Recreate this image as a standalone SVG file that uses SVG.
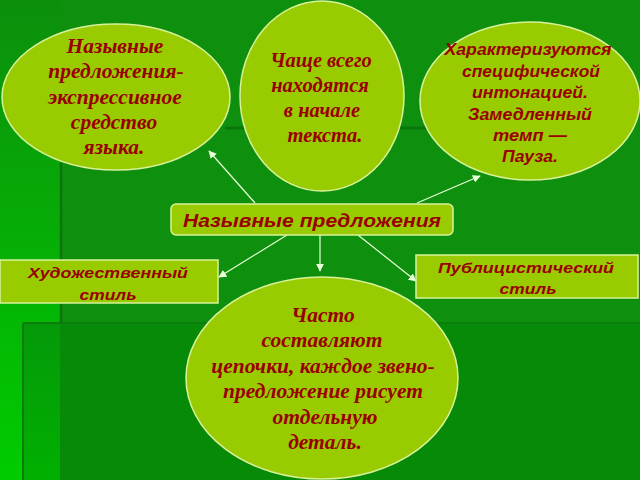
<svg xmlns="http://www.w3.org/2000/svg" width="640" height="480" viewBox="0 0 640 480">
<defs>
<linearGradient id="band" x1="0" y1="0" x2="0" y2="1">
<stop offset="0" stop-color="#0c8f0c"/>
<stop offset="1" stop-color="#00cc00"/>
</linearGradient>
<linearGradient id="band2" x1="0" y1="0" x2="0" y2="1">
<stop offset="0" stop-color="#05990a"/>
<stop offset="1" stop-color="#00b000"/>
</linearGradient>
<marker id="ah" viewBox="0 0 10 10" refX="9" refY="5" markerWidth="8" markerHeight="8" markerUnits="userSpaceOnUse" orient="auto">
<path d="M0,0 L10,5 L0,10 z" fill="#e8ffd8"/>
</marker>
<style>
.shape{fill:#99cc00;stroke:#d8f29a;stroke-width:1.5}
.serif{font-family:"Liberation Serif","Times New Roman",serif;font-weight:bold;font-style:italic;fill:#990000;text-anchor:middle}
.sans{font-family:"Liberation Sans",Arial,sans-serif;font-weight:bold;font-style:italic;fill:#990000;text-anchor:middle}
.conn{stroke:#e8ffd8;stroke-width:1.2;fill:none;marker-end:url(#ah)}
</style>
</defs>
<g id="background">
<rect x="0" y="0" width="640" height="480" fill="#0e900e"/>
<rect x="0" y="0" width="60" height="480" fill="url(#band)"/>
<rect x="23" y="323" width="617" height="157" fill="#078a07"/>
<rect x="23" y="323" width="37" height="157" fill="url(#band2)"/>
<line x1="23" y1="323" x2="640" y2="323" stroke="#0a7d0a" stroke-width="2"/>
<line x1="23" y1="323" x2="23" y2="480" stroke="#0a7d0a" stroke-width="2"/>
<line x1="61" y1="160" x2="61" y2="323" stroke="#0a760a" stroke-width="2.5"/>
<line x1="225" y1="128" x2="430" y2="128" stroke="#0a760a" stroke-width="3"/>
</g>
<g id="connectors">
<line class="conn" x1="255" y1="203" x2="209" y2="151"/>
<line class="conn" x1="417" y1="203" x2="480" y2="176"/>
<line class="conn" x1="287" y1="235" x2="219" y2="277"/>
<line class="conn" x1="320" y1="235" x2="320" y2="271"/>
<line class="conn" x1="358" y1="235" x2="416" y2="281"/>
</g>
<g id="node-left">
<ellipse class="shape" cx="116" cy="97" rx="114" ry="73"/>
<text class="serif" font-size="21.5" x="115" y="53">Назывные</text>
<text class="serif" font-size="21.5" x="116" y="78">предложения-</text>
<text class="serif" font-size="21.5" x="115" y="104">экспрессивное</text>
<text class="serif" font-size="21.5" x="114" y="129">средство</text>
<text class="serif" font-size="21.5" x="114" y="154">языка.</text>
</g>
<g id="node-top">
<ellipse class="shape" cx="322" cy="96" rx="82" ry="95"/>
<text class="serif" font-size="20.5" x="321" y="67">Чаще всего</text>
<text class="serif" font-size="20.5" x="320" y="92">находятся</text>
<text class="serif" font-size="20.5" x="322" y="117">в начале</text>
<text class="serif" font-size="20.5" x="325" y="142">текста.</text>
</g>
<g id="node-right">
<ellipse class="shape" cx="530" cy="101" rx="110" ry="79"/>
<text class="sans" font-size="16.5" x="528" y="55" textLength="167" lengthAdjust="spacingAndGlyphs">Характеризуются</text>
<text class="sans" font-size="16.5" x="531" y="77" textLength="138" lengthAdjust="spacingAndGlyphs">специфической</text>
<text class="sans" font-size="16.5" x="530" y="98" textLength="116" lengthAdjust="spacingAndGlyphs">интонацией.</text>
<text class="sans" font-size="16.5" x="530" y="120" textLength="124" lengthAdjust="spacingAndGlyphs">Замедленный</text>
<text class="sans" font-size="16.5" x="530" y="141" textLength="74" lengthAdjust="spacingAndGlyphs">темп —</text>
<text class="sans" font-size="16.5" x="530" y="162" textLength="56" lengthAdjust="spacingAndGlyphs">Пауза.</text>
</g>
<g id="node-center">
<rect class="shape" x="171" y="204" width="282" height="31" rx="5"/>
<text class="sans" font-size="18.5" x="312" y="227" textLength="258" lengthAdjust="spacingAndGlyphs">Назывные предложения</text>
</g>
<g id="node-art">
<rect class="shape" x="0" y="260" width="218" height="43"/>
<text class="sans" font-size="14.5" x="108" y="278" textLength="160" lengthAdjust="spacingAndGlyphs">Художественный</text>
<text class="sans" font-size="14.5" x="108" y="300" textLength="57" lengthAdjust="spacingAndGlyphs">стиль</text>
</g>
<g id="node-pub">
<rect class="shape" x="416" y="255" width="222" height="43"/>
<text class="sans" font-size="15" x="526" y="273" textLength="176" lengthAdjust="spacingAndGlyphs">Публицистический</text>
<text class="sans" font-size="15" x="528" y="294" textLength="57" lengthAdjust="spacingAndGlyphs">стиль</text>
</g>
<g id="node-bottom">
<ellipse class="shape" cx="322" cy="378" rx="136" ry="101"/>
<text class="serif" font-size="21.5" x="323" y="322">Часто</text>
<text class="serif" font-size="21.5" x="322" y="347">составляют</text>
<text class="serif" font-size="21.5" x="323" y="373">цепочки, каждое звено-</text>
<text class="serif" font-size="21.5" x="323" y="398">предложение рисует</text>
<text class="serif" font-size="21.5" x="325" y="424">отдельную</text>
<text class="serif" font-size="21.5" x="325" y="449">деталь.</text>
</g>
</svg>
